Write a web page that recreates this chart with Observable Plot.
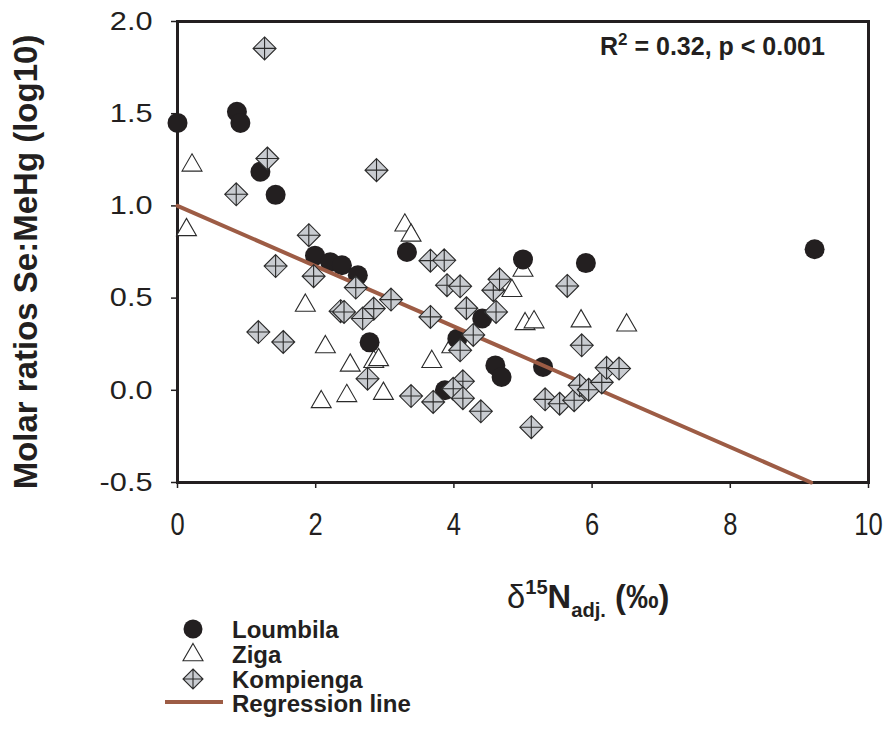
<!DOCTYPE html>
<html>
<head>
<meta charset="utf-8">
<script src="https://cdn.jsdelivr.net/npm/d3@7"></script>
<script src="https://cdn.jsdelivr.net/npm/@observablehq/plot@0.6"></script>
<style>
  body { margin: 0; background: #fff; }
  #chart { width: 890px; height: 736px; position: relative; overflow: hidden; }
  #chart svg { display: block; }
</style>
</head>
<body>
<div id="chart"></div>
<script>
// ---- data ----
const loumbila = [
  [0.00, 1.45], [0.86, 1.51], [0.91, 1.45], [1.20, 1.185], [1.42, 1.06],
  [1.99, 0.73], [2.21, 0.695], [2.38, 0.678], [2.61, 0.624], [2.78, 0.26],
  [3.32, 0.75], [3.87, 0.00], [4.05, 0.28], [4.41, 0.39], [4.60, 0.135],
  [4.69, 0.072], [5.00, 0.71], [5.29, 0.127], [5.91, 0.69], [9.22, 0.765]
];
const ziga = [
  [0.21, 1.22], [0.13, 0.87], [1.85, 0.46], [2.14, 0.235], [2.08, -0.063],
  [2.45, -0.03], [2.50, 0.135], [2.84, 0.155], [2.91, 0.165], [2.98, -0.018],
  [3.29, 0.895], [3.38, 0.84], [3.68, 0.155], [3.97, 0.235], [4.84, 0.54],
  [5.00, 0.65], [5.03, 0.36], [5.16, 0.37], [5.84, 0.375], [6.50, 0.353]
];
const kompienga = [
  [1.26, 1.854], [1.30, 1.257], [0.85, 1.063], [2.88, 1.194], [1.90, 0.841],
  [1.42, 0.674], [1.97, 0.619], [1.17, 0.316], [1.53, 0.262], [2.58, 0.557],
  [2.36, 0.429], [2.41, 0.425], [2.84, 0.443], [2.68, 0.389], [3.09, 0.492],
  [2.75, 0.063], [3.38, -0.031], [3.70, -0.063], [3.66, 0.398], [3.66, 0.703],
  [3.86, 0.705], [3.90, 0.57], [4.09, 0.564], [4.18, 0.445], [4.28, 0.30],
  [4.09, 0.217], [4.13, 0.049], [3.99, 0.008], [4.13, -0.043], [4.39, -0.114],
  [4.57, 0.543], [4.66, 0.602], [4.61, 0.425], [5.12, -0.20], [5.32, -0.049],
  [5.53, -0.073], [5.74, -0.054], [5.82, 0.027], [5.95, 0.003], [6.14, 0.043],
  [6.21, 0.122], [6.39, 0.118], [5.85, 0.244], [5.64, 0.566]
];
const regressionLine = [[0, 1.0], [9.17, -0.5]];
const xTicks = [0, 2, 4, 6, 8, 10];
const yTicks = [-0.5, 0, 0.5, 1.0, 1.5, 2.0];
const yLabel = "Molar ratios Se:MeHg (log10)";
const statsLabel = ["R", "2", " = 0.32, p < 0.001"];
const xLabelParts = ["δ", "15", "N", "adj.", " (‰)"];
const legendLabels = ["Loumbila", "Ziga", "Kompienga", "Regression line"];

// ---- styles ----
const INK = "#231f20";
const DIAMOND_FILL = "#c9ccd1";
const REG_COLOR = "#9d5c45";
const SANS = "'Liberation Sans', Arial, Helvetica, sans-serif";

// diamond with an inner plus
const diamondPlus = {
  draw(ctx, size) {
    const r = Math.sqrt(size / Math.PI);
    ctx.moveTo(0, -r); ctx.lineTo(r, 0); ctx.lineTo(0, r); ctx.lineTo(-r, 0); ctx.closePath();
    ctx.moveTo(0, -r); ctx.lineTo(0, r);
    ctx.moveTo(-r, 0); ctx.lineTo(r, 0);
  }
};

const plot = Plot.plot({
  width: 890,
  height: 560,
  marginLeft: 177,
  marginRight: 22,
  marginTop: 21,
  marginBottom: 78,
  x: { domain: [0, 10] },
  y: { domain: [-0.5, 2] },
  style: { fontFamily: SANS, color: INK, background: "#fff", overflow: "visible" },
  marks: [
    Plot.frame({ stroke: INK, strokeWidth: 3 }),
    Plot.axisX({ ticks: xTicks, tickSize: 6, tickPadding: 24, fontSize: 32,
      label: null, stroke: INK, strokeWidth: 1.5 }),
    Plot.axisY({ ticks: yTicks, tickFormat: d => d.toFixed(1), tickSize: 6, tickPadding: 19,
      fontSize: 26, label: null, stroke: INK, strokeWidth: 1.5 }),
    Plot.dot(ziga, { x: d => d[0], y: d => d[1], symbol: "triangle", r: 7.4,
      fill: "white", stroke: "#2b2b2b", strokeWidth: 1.1 }),
    Plot.dot(loumbila, { x: d => d[0], y: d => d[1], r: 10, fill: INK }),
    Plot.line(regressionLine, { x: d => d[0], y: d => d[1], stroke: REG_COLOR, strokeWidth: 4 }),
    Plot.dot(kompienga, { x: d => d[0], y: d => d[1], symbol: diamondPlus, r: 11.5,
      fill: DIAMOND_FILL, stroke: "#2b2b2b", strokeWidth: 1.1 }),
    Plot.text([yLabel], { text: d => d, frameAnchor: "left", textAnchor: "middle", rotate: -90,
      dx: -151, dy: 10, fontSize: 33, fontWeight: "bold", lineAnchor: "middle", fill: INK })
  ]
});

const chart = document.getElementById("chart");
chart.appendChild(plot);
const svg = d3.select(plot);

function stretch(sel, k) {
  sel.each(function () {
    const w = this.getComputedTextLength();
    this.setAttribute("textLength", (w * k).toFixed(1));
    this.setAttribute("lengthAdjust", "spacingAndGlyphs");
  });
}
// widen y tick labels, narrow x tick labels, like the reference
stretch(svg.selectAll('g[aria-label="y-axis tick label"] text'), 1.18);
stretch(svg.selectAll('g[aria-label="x-axis tick label"] text'), 0.8);

// x-axis title
const xl = svg.append("text").attr("x", 507).attr("y", 608).attr("text-anchor", "start")
  .attr("font-family", SANS).attr("font-weight", "bold").attr("font-size", 34).attr("fill", INK);
xl.append("tspan").attr("font-weight", "normal").text(xLabelParts[0]);
xl.append("tspan").attr("font-size", 21).attr("dy", -14).text(xLabelParts[1]);
xl.append("tspan").attr("dy", 14).text(xLabelParts[2]);
xl.append("tspan").attr("font-size", 21).attr("dy", 9).text(xLabelParts[3]);
xl.append("tspan").attr("dy", -9).text(xLabelParts[4]);
stretch(xl, 0.96);

// statistics annotation
const st = svg.append("text").attr("x", 600).attr("y", 55).attr("text-anchor", "start")
  .attr("font-family", SANS).attr("font-weight", "bold").attr("font-size", 25).attr("fill", INK);
st.append("tspan").text(statsLabel[0]);
st.append("tspan").attr("font-size", 17).attr("dy", -10).text(statsLabel[1]);
st.append("tspan").attr("dy", 10).text(statsLabel[2]);

// ---- legend below the plot ----
const leg = d3.select(chart).append("svg").attr("width", 890).attr("height", 176)
  .style("display", "block").style("font-family", SANS);
const rowsY = [69, 95, 119, 142];      // symbol centres
const baseY = [77.5, 103, 128, 151.5];  // text baselines
const sx = 193;
leg.append("circle").attr("cx", sx).attr("cy", rowsY[0]).attr("r", 9.5).attr("fill", INK);
leg.append("path").attr("transform", `translate(${sx},${rowsY[1]})`)
  .attr("d", d3.symbol(d3.symbolTriangle, 173)()).attr("fill", "white").attr("stroke", "#2b2b2b").attr("stroke-width", 1.1);
leg.append("path").attr("transform", `translate(${sx},${rowsY[2]})`)
  .attr("d", d3.symbol(diamondPlus, Math.PI * 100)()).attr("fill", DIAMOND_FILL).attr("stroke", "#2b2b2b").attr("stroke-width", 1.1);
leg.append("line").attr("x1", 165).attr("x2", 223).attr("y1", rowsY[3]).attr("y2", rowsY[3])
  .attr("stroke", REG_COLOR).attr("stroke-width", 4);
legendLabels.forEach((t, i) => {
  leg.append("text").attr("x", 232).attr("y", baseY[i]).attr("font-size", 24)
    .attr("font-weight", "bold").attr("fill", INK).text(t);
});
</script>
</body>
</html>
